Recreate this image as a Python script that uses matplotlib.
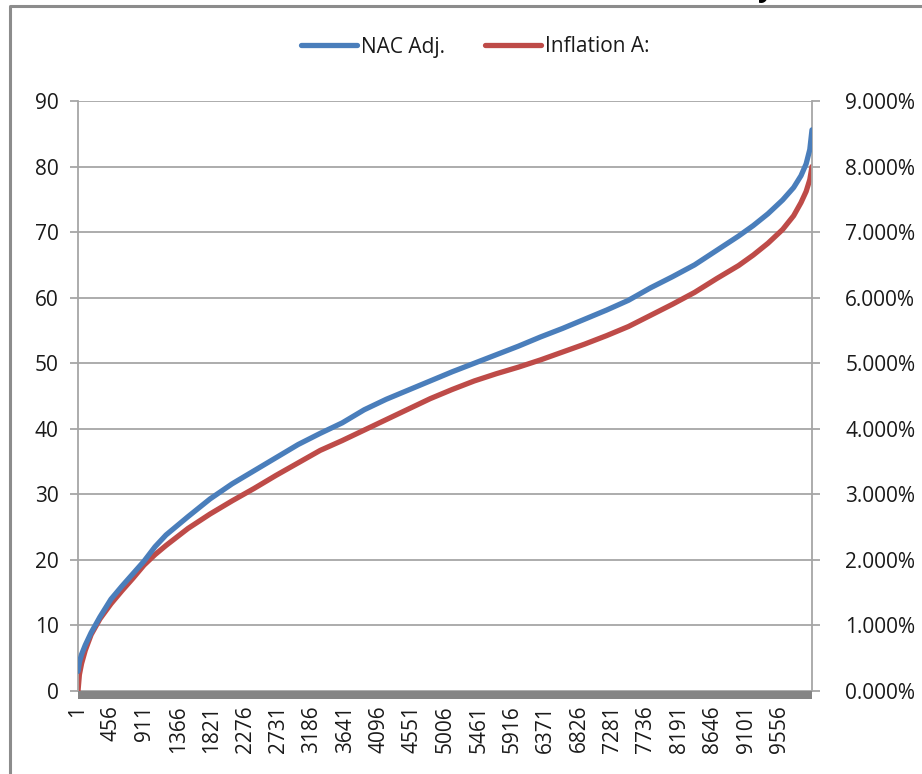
import matplotlib
matplotlib.use("Agg")
import matplotlib.pyplot as plt
from matplotlib.lines import Line2D
from matplotlib.patches import Rectangle
from matplotlib.ticker import FuncFormatter, FixedLocator
import matplotlib.transforms as mtransforms

plt.rcParams['font.family'] = ['Open Sans', 'DejaVu Sans']

# Sorted simulation results, sampled along the run index
run_index = [1, 20, 50, 100, 180, 300, 450, 600, 750, 900, 1050, 1200, 1500, 1800,
             2100, 2400, 2700, 3000, 3300, 3600, 3900, 4200, 4500, 4800, 5100, 5400,
             5700, 6000, 6300, 6600, 6900, 7200, 7500, 7800, 8100, 8400, 8700, 9000,
             9200, 9400, 9600, 9750, 9850, 9920, 9970, 10000]
nac_adj = [3.0, 4.4, 5.6, 7.0, 8.9, 11.3, 14.0, 16.0, 17.9, 19.8, 22.0, 23.8, 26.6, 29.3,
           31.6, 33.6, 35.6, 37.6, 39.3, 40.9, 42.9, 44.5, 45.9, 47.3, 48.7, 50.0,
           51.3, 52.6, 54.0, 55.3, 56.7, 58.1, 59.6, 61.5, 63.2, 65.0, 67.2, 69.4,
           71.0, 72.8, 74.9, 76.8, 78.6, 80.4, 82.6, 85.6]
inflation_a = [0.0000, 0.0025, 0.0042, 0.0062, 0.0086, 0.0110, 0.0133, 0.0153, 0.0172,
               0.0192, 0.0208, 0.0222, 0.0248, 0.0270, 0.0290, 0.0309, 0.0329, 0.0348,
               0.0367, 0.0382, 0.0398, 0.0414, 0.0430, 0.0446, 0.0460, 0.0473, 0.0484,
               0.0494, 0.0505, 0.0517, 0.0529, 0.0542, 0.0556, 0.0573, 0.0590, 0.0608,
               0.0629, 0.0649, 0.0665, 0.0683, 0.0704, 0.0725, 0.0745, 0.0762, 0.0780,
               0.0800]

n_runs = 10000
x_tick_labels = list(range(1, n_runs, 455))
left_ticks = list(range(0, 91, 10))
right_ticks = [v / 100 for v in range(0, 10)]

blue = '#4A7EBB'
red = '#BE4B48'
grid_gray = '#A6A6A6'
text_col = '#1A1A1A'

W, H = 922, 774
fig = plt.figure(figsize=(W / 100, H / 100), dpi=100)
ax = fig.add_axes([78 / W, 1 - 691 / H, (812 - 78) / W, (691 - 101) / H])
ax2 = ax.twinx()

ax.set_zorder(1)
ax2.set_zorder(2)
ax.patch.set_visible(False)

ax.set_ylim(0, 90)
ax2.set_ylim(0, 0.09)
ax.set_xlim(1, n_runs)

# NAC Adj. belongs to the left scale; draw it through that axis
l1, = ax.plot(run_index, nac_adj, color=blue, lw=3.8,
              solid_capstyle='round', label='NAC Adj.', zorder=3)
l2, = ax2.plot(run_index, inflation_a, color=red, lw=3.8,
               solid_capstyle='round', label='Inflation A:')
ax2.set_zorder(0)
ax.set_zorder(1)
ax2.patch.set_visible(False)

ax.yaxis.set_major_locator(FixedLocator(left_ticks))
ax2.yaxis.set_major_locator(FixedLocator(right_ticks))
ax2.yaxis.set_major_formatter(FuncFormatter(lambda v, p: f"{v * 100:.3f}%"))

# gridlines live on the bottom-most axes so both curves sit above them
ax2.grid(axis='y', color=grid_gray, lw=1.3)
ax2.set_axisbelow(True)

for a in (ax, ax2):
    for s in a.spines.values():
        s.set_visible(False)
ax.spines['left'].set_visible(True)
ax.spines['left'].set_color(grid_gray)
ax.spines['left'].set_linewidth(1.3)
ax2.spines['right'].set_visible(True)
ax2.spines['right'].set_color(grid_gray)
ax2.spines['right'].set_linewidth(1.3)

ax.tick_params(axis='y', length=6, width=1.3, color=grid_gray, pad=8,
               labelsize=15, labelcolor=text_col)
ax2.tick_params(axis='y', length=6, width=1.3, color=grid_gray, pad=18,
                labelsize=15, labelcolor=text_col)

ax.set_xticks(x_tick_labels)
ax.set_xticklabels([str(v) for v in x_tick_labels], rotation=90, fontsize=15,
                   color=text_col, va='top', ha='center')
ax.tick_params(axis='x', length=0, pad=10)

# dense category tick marks along the baseline form a solid gray band
offset = mtransforms.ScaledTranslation(0, -8 / 100, fig.dpi_scale_trans)
band = Rectangle((0, 0), 1, 8 / 590, transform=ax.transAxes + offset,
                 facecolor='#858585', edgecolor='none', clip_on=False, zorder=5)
ax.add_patch(band)

fig.legend(handles=[l1, l2], loc='center', bbox_to_anchor=(475 / W, 1 - 47 / H),
           ncol=2, frameon=False, fontsize=15, handlelength=2.7, handletextpad=0.2,
           columnspacing=1.9, labelcolor=text_col)

# chart area border
fig.add_artist(Line2D([10 / W, 10 / W, 1.0], [0.0, 1 - 6 / H, 1 - 6 / H],
                      transform=fig.transFigure, color='#8C8C8C', lw=2.2))
# title above the chart area
fig.text(766 / W, 1 + 4 / H, 'y', fontsize=20, fontweight='bold', color='black',
         ha='center', va='baseline')

fig.savefig('out.png', dpi=100)
